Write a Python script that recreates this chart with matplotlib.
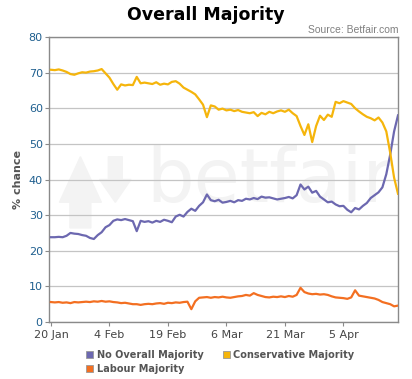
import numpy as np
import pandas as pd
import matplotlib
matplotlib.use('Agg')
import matplotlib.pyplot as plt
import matplotlib.dates as mdates
from matplotlib.patches import Patch, Polygon

# daily prices (% chance), 20 Jan 2010 onwards
dates = pd.date_range('2010-01-20', periods=90, freq='D')

no_overall = [23.8, 23.8, 23.9, 23.8, 24.2, 25.0, 24.8, 24.7, 24.4, 24.2,
              23.6, 23.3, 24.4, 25.2, 26.6, 27.2, 28.4, 28.8, 28.6, 28.9,
              28.6, 28.3, 25.5, 28.4, 28.1, 28.3, 27.9, 28.4, 28.1, 28.7,
              28.4, 28.0, 29.6, 30.1, 29.6, 30.9, 31.8, 31.2, 32.6, 33.6,
              35.8, 34.2, 33.9, 34.3, 33.5, 33.7, 34.0, 33.6, 34.2, 34.0,
              34.6, 34.4, 34.8, 34.5, 35.2, 34.9, 35.0, 34.7, 34.4, 34.6,
              34.8, 35.1, 34.7, 35.6, 38.6, 37.2, 38.0, 36.3, 36.8, 35.2,
              34.4, 33.6, 33.8, 33.0, 32.5, 32.6, 31.5, 30.8, 32.0, 31.6,
              32.6, 33.4, 34.8, 35.6, 36.4, 37.8, 41.5, 47.0, 53.5, 58.0]

conservative = [70.8, 70.7, 70.9, 70.6, 70.2, 69.6, 69.4, 69.8, 70.1, 70.0,
                70.3, 70.4, 70.6, 71.0, 69.8, 68.6, 66.8, 65.2, 66.7, 66.4,
                66.6, 66.5, 68.8, 67.0, 67.2, 67.0, 66.8, 67.3, 66.6, 66.9,
                66.7, 67.4, 67.6, 66.9, 65.8, 65.2, 64.6, 63.9, 62.5, 61.0,
                57.5, 60.8, 60.5, 59.6, 59.9, 59.4, 59.6, 59.2, 59.5, 59.0,
                58.8, 58.6, 58.9, 57.8, 58.7, 58.3, 59.0, 58.6, 59.1, 59.4,
                59.0, 59.6, 58.6, 57.8, 55.0, 52.5, 55.5, 50.5, 55.0, 57.9,
                56.7, 58.2, 57.6, 61.8, 61.4, 62.0, 61.6, 61.2, 60.0, 59.1,
                58.3, 57.6, 57.2, 56.6, 57.4, 56.0, 53.5, 47.5, 40.5, 36.0]

labour = [5.6, 5.5, 5.6, 5.4, 5.5, 5.3, 5.6, 5.5, 5.6, 5.7,
          5.6, 5.8, 5.7, 5.9, 5.7, 5.8, 5.6, 5.5, 5.3, 5.4,
          5.2, 5.0, 5.0, 4.8, 5.0, 5.1, 5.0, 5.2, 5.3, 5.1,
          5.4, 5.3, 5.5, 5.4, 5.6, 5.7, 3.6, 5.8, 6.8, 6.9,
          7.0, 6.8, 7.0, 6.9, 7.1, 6.9, 6.8, 7.0, 7.2, 7.3,
          7.6, 7.4, 8.1, 7.6, 7.3, 7.0, 6.9, 7.1, 7.0, 7.2,
          7.0, 7.3, 7.1, 7.6, 9.6, 8.4, 8.0, 7.8, 7.9, 7.7,
          7.8, 7.6, 7.2, 6.9, 6.8, 6.7, 6.5, 6.9, 8.9, 7.4,
          7.2, 7.0, 6.8, 6.6, 6.2, 5.6, 5.3, 5.0, 4.4, 4.6]

series_names = ['No Overall Majority', 'Labour Majority', 'Conservative Majority']
colors = {'No Overall Majority': '#6c68b0',
          'Conservative Majority': '#f5b50c',
          'Labour Majority': '#f36f21'}
tick_dates = pd.date_range('2010-01-20', periods=6, freq='15D')

fig = plt.figure(figsize=(4.12, 3.79), dpi=100)
ax = fig.add_axes([49/412, 1-322/379, 349/412, 285/379])

# betfair watermark
wm = '#f3f3f3'
ax.add_patch(Polygon([[0.03, 0.42], [0.09, 0.58], [0.15, 0.42], [0.12, 0.42],
                      [0.12, 0.33], [0.06, 0.33], [0.06, 0.42]],
                     closed=True, transform=ax.transAxes, color=wm, zorder=0))
ax.add_patch(Polygon([[0.17, 0.58], [0.17, 0.50], [0.145, 0.50], [0.19, 0.42],
                      [0.235, 0.50], [0.21, 0.50], [0.21, 0.58]],
                     closed=True, transform=ax.transAxes, color=wm, zorder=0))
ax.text(0.28, 0.42, 'betfair', transform=ax.transAxes, fontsize=54,
        color=wm, va='baseline', ha='left', zorder=0)

ax.plot(dates, labour, color=colors['Labour Majority'], lw=1.6, zorder=3)
ax.plot(dates, no_overall, color=colors['No Overall Majority'], lw=1.6, zorder=3)
ax.plot(dates, conservative, color=colors['Conservative Majority'], lw=1.6, zorder=3)

ax.set_ylim(0, 80)
ax.set_yticks(range(0, 81, 10))
ax.set_xlim(dates[0] - pd.Timedelta(hours=12), dates[-1])
ax.set_xticks(tick_dates)
ax.xaxis.set_major_formatter(mdates.DateFormatter('%-d %b'))

ax.grid(axis='y', color='#c4c4c4', lw=0.9)
ax.set_axisbelow(True)
for s in ax.spines.values():
    s.set_color('#8a8a8a')
    s.set_linewidth(1.0)

ax.tick_params(axis='y', length=3, width=0.8, color='#8a8a8a', pad=1.5,
               labelsize=8, labelcolor='#1f5f8f')
ax.tick_params(axis='x', length=3, width=0.8, color='#8a8a8a', pad=3,
               labelsize=8, labelcolor='#444444')
ax.set_ylabel('% chance', fontsize=8, fontweight='bold', color='#555555', labelpad=4)

fig.text(0.5, 1-15/379, 'Overall Majority', ha='center', va='center',
         fontsize=12.5, fontweight='bold', color='black')
fig.text(399/412, 1-30/379, 'Source: Betfair.com', ha='right', va='center',
         fontsize=7.5, color='#808080', family='Liberation Sans')

handles = [Patch(facecolor=colors[n], edgecolor='#999999', lw=0.6) for n in series_names]
fig.legend(handles, series_names, loc='upper left', bbox_to_anchor=(81/412, 1-345/379),
           ncol=2, frameon=False, handlelength=0.75, handleheight=0.75,
           handletextpad=0.35, columnspacing=2.0, borderpad=0, labelspacing=0.4,
           prop={'size': 7, 'weight': 'bold'}, labelcolor='#555555')

fig.savefig('out.png', dpi=100, facecolor='white')
